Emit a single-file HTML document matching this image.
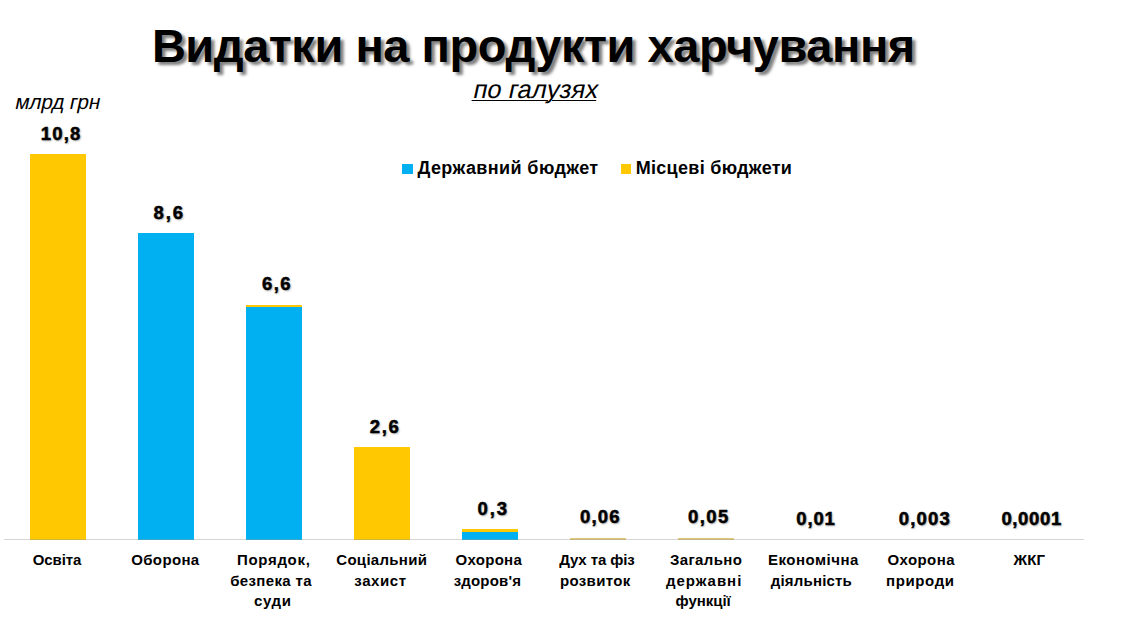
<!DOCTYPE html>
<html><head><meta charset="utf-8"><style>
*{margin:0;padding:0;box-sizing:border-box}
html,body{width:1122px;height:638px;background:#fff;overflow:hidden}
body{position:relative;font-family:"Liberation Sans",sans-serif;color:#000}
.a{position:absolute;white-space:nowrap}
.r{position:absolute}
</style></head><body>
<div class="a" style="left:151.90px;top:21.81px;font-size:47px;line-height:47px;letter-spacing:-0.469px;font-weight:bold;transform:scaleY(0.965);transform-origin:0 39.8px;text-shadow:3.5px 3px 3px rgba(0,0,0,.5)">Видатки на продукти харчування</div>
<div class="a" style="left:472.00px;top:76.51px;font-size:25.5px;line-height:25.5px;letter-spacing:0.067px;transform:skewX(-12deg);transform-origin:0 21.7px;text-decoration:underline;text-decoration-thickness:1px;text-underline-offset:2px">по галузях</div>
<div class="a" style="left:14.20px;top:91.68px;font-size:20.7px;line-height:20.7px;letter-spacing:-0.086px;transform:skewX(-12deg);transform-origin:0 17.6px">млрд грн</div>
<div class="a" style="left:417.50px;top:159.16px;font-size:18px;line-height:18px;letter-spacing:0.400px;font-weight:bold">Державний бюджет</div>
<div class="a" style="left:635.70px;top:159.16px;font-size:18px;line-height:18px;letter-spacing:0.300px;font-weight:bold">Місцеві бюджети</div>
<div class="a" style="left:32.80px;top:552.00px;font-size:15px;line-height:15px;letter-spacing:-0.120px;font-weight:bold">Освіта</div>
<div class="a" style="left:40.70px;top:125.22px;font-size:18.5px;line-height:18.5px;letter-spacing:1.200px;font-weight:bold;-webkit-text-stroke:0.5px #000;text-shadow:1px 1px 2px rgba(0,0,0,.35)">10,8</div>
<div class="a" style="left:131.20px;top:552.00px;font-size:15px;line-height:15px;letter-spacing:0.367px;font-weight:bold">Оборона</div>
<div class="a" style="left:153.60px;top:203.65px;font-size:18.5px;line-height:18.5px;letter-spacing:1.900px;font-weight:bold;-webkit-text-stroke:0.5px #000;text-shadow:1px 1px 2px rgba(0,0,0,.35)">8,6</div>
<div class="a" style="left:237.00px;top:552.00px;font-size:15px;line-height:15px;letter-spacing:0.686px;font-weight:bold">Порядок,</div>
<div class="a" style="left:230.20px;top:572.50px;font-size:15px;line-height:15px;letter-spacing:0.356px;font-weight:bold">безпека та</div>
<div class="a" style="left:253.90px;top:593.00px;font-size:15px;line-height:15px;letter-spacing:0.667px;font-weight:bold">суди</div>
<div class="a" style="left:261.90px;top:274.95px;font-size:18.5px;line-height:18.5px;letter-spacing:1.500px;font-weight:bold;-webkit-text-stroke:0.5px #000;text-shadow:1px 1px 2px rgba(0,0,0,.35)">6,6</div>
<div class="a" style="left:336.30px;top:552.00px;font-size:15px;line-height:15px;letter-spacing:0.289px;font-weight:bold">Соціальний</div>
<div class="a" style="left:354.30px;top:572.50px;font-size:15px;line-height:15px;letter-spacing:0.600px;font-weight:bold">захист</div>
<div class="a" style="left:369.80px;top:417.55px;font-size:18.5px;line-height:18.5px;letter-spacing:1.600px;font-weight:bold;-webkit-text-stroke:0.5px #000;text-shadow:1px 1px 2px rgba(0,0,0,.35)">2,6</div>
<div class="a" style="left:455.50px;top:552.00px;font-size:15px;line-height:15px;letter-spacing:0.300px;font-weight:bold">Охорона</div>
<div class="a" style="left:453.70px;top:572.50px;font-size:15px;line-height:15px;letter-spacing:0.171px;font-weight:bold">здоров'я</div>
<div class="a" style="left:477.60px;top:499.54px;font-size:18.5px;line-height:18.5px;letter-spacing:1.900px;font-weight:bold;-webkit-text-stroke:0.5px #000;text-shadow:1px 1px 2px rgba(0,0,0,.35)">0,3</div>
<div class="a" style="left:559.20px;top:552.00px;font-size:15px;line-height:15px;letter-spacing:-0.111px;font-weight:bold">Дух та фіз</div>
<div class="a" style="left:560.00px;top:572.50px;font-size:15px;line-height:15px;letter-spacing:0.343px;font-weight:bold">розвиток</div>
<div class="a" style="left:580.00px;top:508.10px;font-size:18.5px;line-height:18.5px;letter-spacing:1.200px;font-weight:bold;-webkit-text-stroke:0.5px #000;text-shadow:1px 1px 2px rgba(0,0,0,.35)">0,06</div>
<div class="a" style="left:670.00px;top:552.00px;font-size:15px;line-height:15px;letter-spacing:0.371px;font-weight:bold">Загально</div>
<div class="a" style="left:665.90px;top:572.50px;font-size:15px;line-height:15px;letter-spacing:1.000px;font-weight:bold">державні</div>
<div class="a" style="left:675.50px;top:593.00px;font-size:15px;line-height:15px;letter-spacing:-0.033px;font-weight:bold">функції</div>
<div class="a" style="left:688.10px;top:508.46px;font-size:18.5px;line-height:18.5px;letter-spacing:1.400px;font-weight:bold;-webkit-text-stroke:0.5px #000;text-shadow:1px 1px 2px rgba(0,0,0,.35)">0,05</div>
<div class="a" style="left:767.90px;top:552.00px;font-size:15px;line-height:15px;letter-spacing:0.511px;font-weight:bold">Економічна</div>
<div class="a" style="left:770.70px;top:572.50px;font-size:15px;line-height:15px;letter-spacing:0.200px;font-weight:bold">діяльність</div>
<div class="a" style="left:796.30px;top:509.88px;font-size:18.5px;line-height:18.5px;letter-spacing:0.867px;font-weight:bold;-webkit-text-stroke:0.5px #000;text-shadow:1px 1px 2px rgba(0,0,0,.35)">0,01</div>
<div class="a" style="left:887.40px;top:552.00px;font-size:15px;line-height:15px;letter-spacing:0.433px;font-weight:bold">Охорона</div>
<div class="a" style="left:886.10px;top:572.50px;font-size:15px;line-height:15px;letter-spacing:0.600px;font-weight:bold">природи</div>
<div class="a" style="left:898.70px;top:510.13px;font-size:18.5px;line-height:18.5px;letter-spacing:1.200px;font-weight:bold;-webkit-text-stroke:0.5px #000;text-shadow:1px 1px 2px rgba(0,0,0,.35)">0,003</div>
<div class="a" style="left:1013.40px;top:552.00px;font-size:15px;line-height:15px;letter-spacing:0.200px;font-weight:bold">ЖКГ</div>
<div class="a" style="left:1001.40px;top:510.24px;font-size:18.5px;line-height:18.5px;letter-spacing:0.640px;font-weight:bold;-webkit-text-stroke:0.5px #000;text-shadow:1px 1px 2px rgba(0,0,0,.35)">0,0001</div>
<div class="r" style="left:402px;top:163.7px;width:10.6px;height:10px;background:#00B0F0"></div>
<div class="r" style="left:620.9px;top:163.7px;width:10.4px;height:10px;background:#FFC800"></div>
<div class="r" style="left:30.0px;top:154.48px;width:56px;height:385.52px;background:#FFC800"></div>
<div class="r" style="left:138.0px;top:232.91px;width:56px;height:307.09px;background:#00B0F0"></div>
<div class="r" style="left:246.0px;top:307.06px;width:56px;height:232.94px;background:#00B0F0"></div>
<div class="r" style="left:246.0px;top:304.92px;width:56px;height:2.14px;background:#FFC800"></div>
<div class="r" style="left:354.0px;top:446.81px;width:56px;height:93.19px;background:#FFC800"></div>
<div class="r" style="left:462.0px;top:532.37px;width:56px;height:7.63px;background:#00B0F0"></div>
<div class="r" style="left:462.0px;top:528.80px;width:56px;height:3.56px;background:#FFC800"></div>
<div class="r" style="left:570.0px;top:538.20px;width:56px;height:2px;background:#e0c878"></div>
<div class="r" style="left:678.0px;top:538.20px;width:56px;height:2px;background:#e0c878"></div>
<div class="r" style="left:4px;top:539px;width:1080px;height:1px;background:rgba(150,150,150,.4)"></div>
</body></html>
